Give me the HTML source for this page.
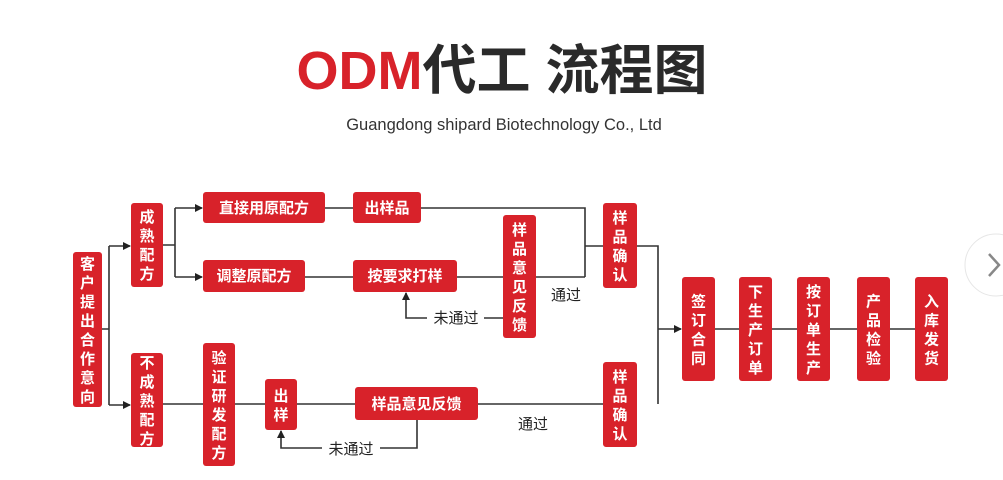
<!DOCTYPE html>
<html><head><meta charset="utf-8"><style>
html,body{margin:0;padding:0;background:#fff;width:1003px;height:480px;overflow:hidden}
svg{display:block}
.b{fill:#d8222a}
.t{fill:#fff;font-family:"Liberation Sans","Noto Sans CJK SC",sans-serif;font-size:15px;font-weight:bold;text-anchor:middle}
.l{stroke:#333;stroke-width:1.6;fill:none}
.k{fill:#222;font-family:"Liberation Sans","Noto Sans CJK SC",sans-serif;font-size:15px;text-anchor:middle}
</style></head><body>
<svg width="1003" height="480" viewBox="0 0 1003 480" xmlns="http://www.w3.org/2000/svg">
<defs><marker id="a" markerWidth="8" markerHeight="8" refX="7" refY="4" orient="auto" markerUnits="userSpaceOnUse"><path d="M0,0 L8,4 L0,8 z" fill="#222"/></marker></defs>
<text x="502" y="89" text-anchor="middle" font-family="'Liberation Sans','Noto Sans CJK SC',sans-serif" font-size="54" font-weight="bold"><tspan fill="#d8222a">ODM</tspan><tspan fill="#2a2a2a">代工 流程图</tspan></text>
<text x="504" y="130" text-anchor="middle" font-family="'Liberation Sans','Noto Sans CJK SC',sans-serif" font-size="16.5" fill="#333">Guangdong shipard Biotechnology Co., Ltd</text>
<circle cx="996" cy="265" r="31" fill="#fff" stroke="#e6e6e6"/>
<path d="M989,254 L999,265 L989,276" stroke="#888" stroke-width="2.5" fill="none"/>
<path class="l" d="M102,329 H109 M109,246 V405"/>
<path class="l" d="M109,246 H130" marker-end="url(#a)"/>
<path class="l" d="M109,405 H130" marker-end="url(#a)"/>
<path class="l" d="M163,245 H175 M175,208 V277"/>
<path class="l" d="M175,208 H202" marker-end="url(#a)"/>
<path class="l" d="M175,277 H202" marker-end="url(#a)"/>
<path class="l" d="M325,208 H353 M421,208 H585 V277 M305,277 H353 M457,277 H585 M585,246 H603 M637,246 H658 V404 M163,404 H603"/>
<path class="l" d="M658,329 H681" marker-end="url(#a)"/>
<path class="l" d="M715,329 H915"/>
<path class="l" d="M503,318 H484 M427,318 H406 V293" marker-end="url(#a)"/>
<path class="l" d="M417,420 V448 H380 M322,448 H281 V431" marker-end="url(#a)"/>
<rect class="b" x="73" y="252" width="29" height="155" rx="3"/>
<rect class="b" x="131" y="203" width="32" height="84" rx="3"/>
<rect class="b" x="203" y="192" width="122" height="31" rx="3"/>
<rect class="b" x="203" y="260" width="102" height="32" rx="3"/>
<rect class="b" x="131" y="353" width="32" height="94" rx="3"/>
<rect class="b" x="203" y="343" width="32" height="123" rx="3"/>
<rect class="b" x="265" y="379" width="32" height="51" rx="3"/>
<rect class="b" x="353" y="192" width="68" height="31" rx="3"/>
<rect class="b" x="353" y="260" width="104" height="32" rx="3"/>
<rect class="b" x="503" y="215" width="33" height="123" rx="3"/>
<rect class="b" x="603" y="203" width="34" height="85" rx="3"/>
<rect class="b" x="355" y="387" width="123" height="33" rx="3"/>
<rect class="b" x="603" y="362" width="34" height="85" rx="3"/>
<rect class="b" x="682" y="277" width="33" height="104" rx="3"/>
<rect class="b" x="739" y="277" width="33" height="104" rx="3"/>
<rect class="b" x="797" y="277" width="33" height="104" rx="3"/>
<rect class="b" x="857" y="277" width="33" height="104" rx="3"/>
<rect class="b" x="915" y="277" width="33" height="104" rx="3"/>
<text class="t" x="264" y="213">直接用原配方</text>
<text class="t" x="254" y="281">调整原配方</text>
<text class="t" x="387" y="213">出样品</text>
<text class="t" x="405" y="281">按要求打样</text>
<text class="t" x="416.5" y="409">样品意见反馈</text>
<text class="k" x="566" y="300">通过</text>
<text class="k" x="533" y="429">通过</text>
<text class="k" x="456" y="323">未通过</text>
<text class="k" x="351" y="454">未通过</text>
<g class="t">
<text x="87.5" y="269"><tspan x="87.5">客</tspan><tspan x="87.5" dy="19">户</tspan><tspan x="87.5" dy="19">提</tspan><tspan x="87.5" dy="19">出</tspan><tspan x="87.5" dy="19">合</tspan><tspan x="87.5" dy="19">作</tspan><tspan x="87.5" dy="19">意</tspan><tspan x="87.5" dy="19">向</tspan></text>
<text y="222"><tspan x="147">成</tspan><tspan x="147" dy="19">熟</tspan><tspan x="147" dy="19">配</tspan><tspan x="147" dy="19">方</tspan></text>
<text y="368"><tspan x="147">不</tspan><tspan x="147" dy="19">成</tspan><tspan x="147" dy="19">熟</tspan><tspan x="147" dy="19">配</tspan><tspan x="147" dy="19">方</tspan></text>
<text y="363"><tspan x="219">验</tspan><tspan x="219" dy="19">证</tspan><tspan x="219" dy="19">研</tspan><tspan x="219" dy="19">发</tspan><tspan x="219" dy="19">配</tspan><tspan x="219" dy="19">方</tspan></text>
<text y="401"><tspan x="281">出</tspan><tspan x="281" dy="19">样</tspan></text>
<text y="235"><tspan x="519.5">样</tspan><tspan x="519.5" dy="19">品</tspan><tspan x="519.5" dy="19">意</tspan><tspan x="519.5" dy="19">见</tspan><tspan x="519.5" dy="19">反</tspan><tspan x="519.5" dy="19">馈</tspan></text>
<text y="223"><tspan x="620">样</tspan><tspan x="620" dy="19">品</tspan><tspan x="620" dy="19">确</tspan><tspan x="620" dy="19">认</tspan></text>
<text y="382"><tspan x="620">样</tspan><tspan x="620" dy="19">品</tspan><tspan x="620" dy="19">确</tspan><tspan x="620" dy="19">认</tspan></text>
<text y="306.5"><tspan x="698.5">签</tspan><tspan x="698.5" dy="19">订</tspan><tspan x="698.5" dy="19">合</tspan><tspan x="698.5" dy="19">同</tspan></text>
<text y="297"><tspan x="755.5">下</tspan><tspan x="755.5" dy="19">生</tspan><tspan x="755.5" dy="19">产</tspan><tspan x="755.5" dy="19">订</tspan><tspan x="755.5" dy="19">单</tspan></text>
<text y="297"><tspan x="813.5">按</tspan><tspan x="813.5" dy="19">订</tspan><tspan x="813.5" dy="19">单</tspan><tspan x="813.5" dy="19">生</tspan><tspan x="813.5" dy="19">产</tspan></text>
<text y="306.5"><tspan x="873.5">产</tspan><tspan x="873.5" dy="19">品</tspan><tspan x="873.5" dy="19">检</tspan><tspan x="873.5" dy="19">验</tspan></text>
<text y="306.5"><tspan x="931.5">入</tspan><tspan x="931.5" dy="19">库</tspan><tspan x="931.5" dy="19">发</tspan><tspan x="931.5" dy="19">货</tspan></text>
</g>
</svg>
</body></html>
